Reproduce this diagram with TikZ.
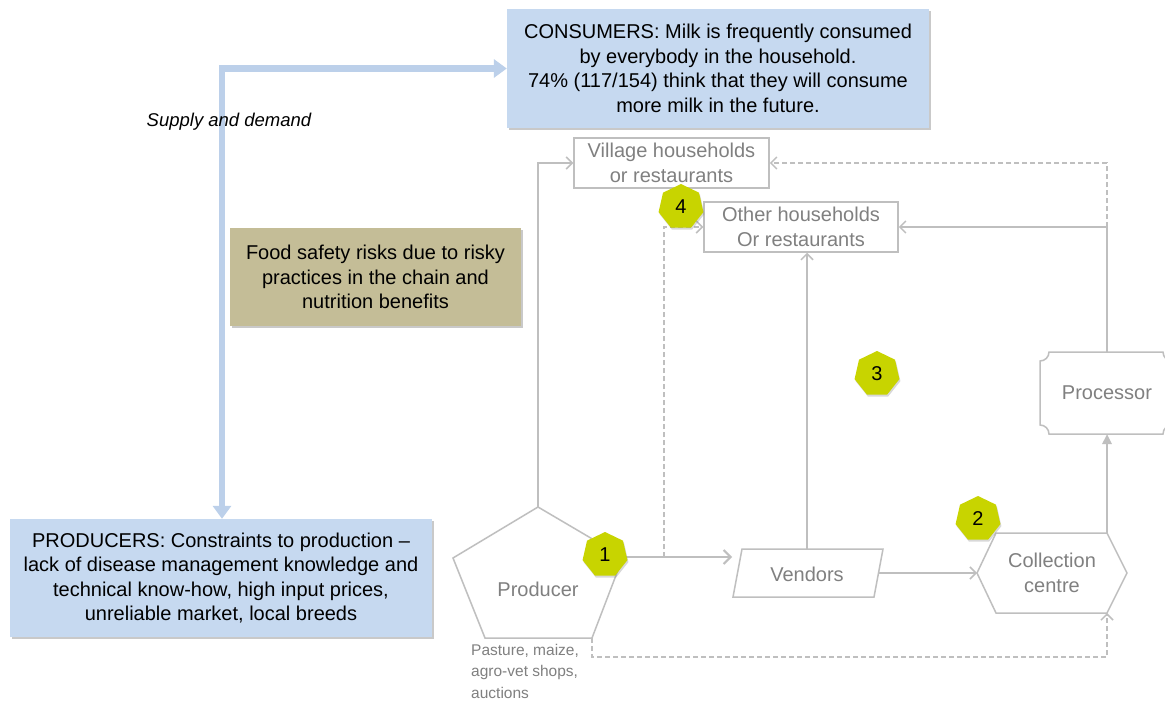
\documentclass[tikz,border=0pt]{standalone}
\usepackage{fontspec}
\setmainfont{Liberation Sans}
\usetikzlibrary{arrows.meta,shapes.geometric,shadows}
\definecolor{blueBox}{RGB}{198,217,240}
\definecolor{blueArrow}{RGB}{188,208,234}
\definecolor{tanBox}{RGB}{196,189,151}
\definecolor{lineGrey}{RGB}{191,191,191}
\definecolor{textGrey}{RGB}{128,128,128}
\definecolor{badgeGreen}{RGB}{200,212,0}
\begin{document}
\begin{tikzpicture}[x=1pt,y=-1pt,
  infobox/.style={draw=none, inner sep=0pt, align=center, text=black,
    font=\fontsize{20}{24.5}\selectfont,
    drop shadow={shadow xshift=1.5pt, shadow yshift=-2pt, fill=black!60, opacity=0.35}},
  greybox/.style={draw=lineGrey, line width=1.5pt, inner sep=0pt, align=center,
    text=textGrey, font=\fontsize{20}{24.5}\selectfont},
  greylabel/.style={inner sep=0pt, align=center, text=textGrey, font=\fontsize{20}{24.5}\selectfont},
  gline/.style={draw=lineGrey, line width=1.5pt},
  gdash/.style={draw=lineGrey, line width=1.5pt, dash pattern=on 5pt off 3pt},
  gtip/.style={-{Straight Barb[length=6pt,width=12pt,line width=1.5pt]}},
  blueflow/.style={draw=blueArrow, line width=6.5pt,
    {Triangle[length=13pt,width=18pt]}-{Triangle[length=13pt,width=18pt]}},
  badge/.style={regular polygon, regular polygon sides=7, minimum size=46pt, inner sep=0pt,
    fill=badgeGreen, text=black, font=\fontsize{20}{24}\selectfont,
    drop shadow={shadow xshift=1pt, shadow yshift=-2pt, fill=black!50, opacity=0.3}}
]
\useasboundingbox (0,0) rectangle (1165,701);
\clip (0,0) rectangle (1165,701);
\fill[white] (0,0) rectangle (1165,701);

% information boxes
\node[infobox, fill=blueBox, minimum width=422pt, minimum height=119pt] (consumers) at (718,68.5)
  {CONSUMERS: Milk is frequently consumed\\ by everybody in the household.\\ 74\% (117/154) think that they will consume\\ more milk in the future.};
\node[infobox, fill=blueBox, minimum width=422pt, minimum height=118pt] (producers) at (221,578)
  {PRODUCERS: Constraints to production --\\ lack of disease management knowledge and\\ technical know-how, high input prices,\\ unreliable market, local breeds};
\node[infobox, fill=tanBox, minimum width=291pt, minimum height=98pt] (food) at (375.5,277)
  {Food safety risks due to risky\\ practices in the chain and\\ nutrition benefits};

% supply and demand arrow
\coordinate (sdc) at (222,68.5);
\draw[blueflow] (producers.north -| sdc) -- (sdc) -- (consumers.west);
\node[inner sep=0pt, font=\fontsize{18.5}{22}\selectfont\itshape] (sd) at (229,122) {Supply and demand};

% grey chain nodes
\node[greybox, minimum width=195pt, minimum height=50pt] (village) at (671.5,163) {Village households\\ or restaurants};
\node[greybox, minimum width=194pt, minimum height=50pt] (other) at (801,227) {Other households\\ Or restaurants};

% producer pentagon
\coordinate (pt) at (538,507);
\coordinate (pr) at (623,557);
\coordinate (pbr) at (592,638);
\coordinate (pbl) at (485,638);
\coordinate (pl) at (453,558);
\draw[gline] (pt) -- (pr) -- (pbr) -- (pbl) -- (pl) -- cycle;
\node[greylabel] (producer) at (538,589) {Producer};
\node[inner sep=0pt, anchor=north west, align=left, text=textGrey,
  font=\fontsize{15.5}{21.5}\selectfont] (inputs) at (471,644)
  {Pasture, maize,\\ agro-vet shops,\\ auctions};

% vendors parallelogram
\coordinate (v1) at (742,549);
\coordinate (v2) at (883,549);
\coordinate (v3) at (874,597);
\coordinate (v4) at (733,597);
\draw[gline] (v1) -- (v2) -- (v3) -- (v4) -- cycle;
\node[greylabel] (vendors) at (807,574) {Vendors};
\coordinate (vin) at (732,557);
\coordinate (vtop) at (807,549);
\coordinate (vout) at (878,573);

% collection centre hexagon
\coordinate (c1) at (977,573);
\coordinate (c2) at (996,533);
\coordinate (c3) at (1107,533);
\coordinate (c4) at (1127,573);
\coordinate (c5) at (1107,613);
\coordinate (c6) at (996,613);
\draw[gline] (c1) -- (c2) -- (c3) -- (c4) -- (c5) -- (c6) -- cycle;
\node[greylabel] (collection) at (1052,573) {Collection\\ centre};

% processor plaque
\draw[gline] (1040,361) arc(90:0:9) -- (1163,352) arc(180:90:9) -- (1172,425)
  arc(270:180:9) -- (1049,434) arc(0:-90:9) -- cycle;
\node[greylabel] (processor) at (1107,393) {Processor};
\coordinate (prtop) at (1107,352);
\coordinate (prbot) at (1107,434);

% connectors
\draw[gline, gtip] (pt) |- (village.west);
\coordinate (branch) at (664,557);
\draw[gline, line width=2.5pt, -{Straight Barb[length=7pt,width=14pt,line width=2pt]}] (pr) -- (vin);
\draw[gdash, gtip] (branch) |- (other.west);
\draw[gline, gtip] (vtop) -- (vtop |- other.south);
\draw[gline, gtip] (vout) -- (c1);
\draw[gline, line width=2.5pt, -{Triangle[length=10pt,width=9pt]}] (c3) -- (prbot);
\draw[gline, gtip] (prtop) |- (other.east);
\coordinate (pjoin) at (1107,227);
\draw[gdash, gtip] (pjoin) |- (village.east);
\coordinate (dlow) at (592,657);
\draw[gdash, gtip] (pbr) -- (dlow) -| (c5);

% badges
\node[badge] (b1) at (605,555) {1};
\node[badge] (b2) at (978,519) {2};
\node[badge] (b3) at (877,374) {3};
\node[badge] (b4) at (681,207) {4};
\end{tikzpicture}
\end{document}
